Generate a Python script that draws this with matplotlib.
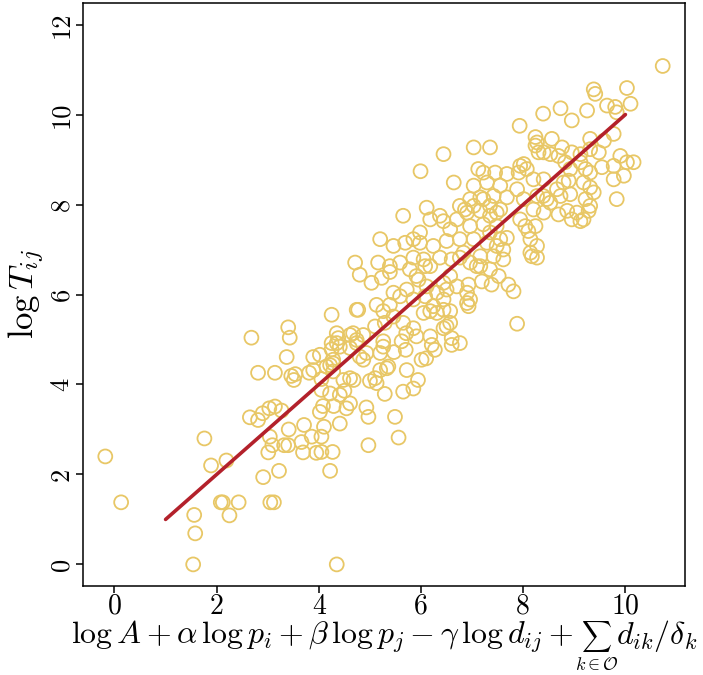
import numpy as np
import matplotlib
matplotlib.use("Agg")
import matplotlib.pyplot as plt

points = [
    (-0.18, 2.40), (0.13, 1.38), (1.76, 2.80), (1.89, 2.20), (2.19, 2.31), (1.56, 1.10), (1.58, 0.69), (1.54, 0.00),
    (2.08, 1.38), (2.12, 1.38), (2.43, 1.38), (2.25, 1.09), (3.05, 1.38), (3.12, 1.38), (2.91, 1.94), (3.22, 2.08),
    (3.01, 2.49), (3.09, 2.65), (3.32, 2.65), (3.40, 2.65), (3.41, 3.00), (3.69, 2.49), (3.71, 3.10), (2.65, 3.27),
    (2.81, 3.21), (2.90, 3.36), (3.03, 3.47), (3.14, 3.51), (3.27, 3.42), (3.51, 4.10), (3.04, 2.84), (3.66, 2.72),
    (3.95, 2.48), (4.05, 2.50), (4.27, 2.50), (3.86, 2.84), (4.05, 2.84), (4.10, 3.06), (4.41, 3.13), (4.22, 2.08),
    (4.35, 0.00), (4.97, 2.65), (5.56, 2.82), (5.49, 3.28), (4.97, 3.28), (4.93, 3.49),
    (2.68, 5.04), (3.40, 5.27), (3.43, 5.04), (3.37, 4.61), (3.89, 4.61), (2.81, 4.26), (3.14, 4.26), (3.46, 4.19),
    (3.54, 4.23), (3.81, 4.26), (3.89, 4.32),
    (4.25, 5.55), (4.77, 5.66), (4.05, 4.12), (4.22, 4.43), (4.25, 4.78), (4.38, 5.03), (4.61, 4.14), (4.68, 4.10),
    (4.50, 3.86), (4.29, 3.52), (4.08, 3.52), (4.02, 3.39), (4.28, 4.29), (4.48, 4.10), (5.00, 4.08), (5.10, 4.14),
    (5.13, 4.03), (4.05, 3.88), (4.22, 3.80), (4.61, 3.58), (4.54, 3.47), (4.41, 3.77), (4.15, 4.40), (4.28, 4.47),
    (4.35, 4.92), (4.61, 5.10), (4.74, 4.99), (4.93, 4.70), (4.87, 4.55), (5.29, 3.79), (5.65, 3.84), (5.85, 3.91),
    (5.94, 4.10), (5.33, 4.36), (5.20, 4.32), (5.72, 4.32),
    (5.13, 5.77), (5.26, 5.63), (5.39, 5.77), (5.65, 5.37), (5.85, 5.25), (5.91, 5.07), (6.18, 5.07), (6.21, 4.88),
    (6.10, 4.58), (6.01, 4.55), (6.44, 5.25), (6.57, 5.37), (6.60, 4.88), (6.76, 4.92), (6.05, 5.59), (6.18, 5.63),
    (6.31, 5.59), (6.44, 5.66), (6.57, 5.63), (6.90, 5.81), (5.47, 4.72), (5.70, 4.77), (5.71, 5.14), (5.26, 4.96),
    (5.20, 4.70), (4.87, 5.10), (4.67, 5.14), (4.74, 4.92), (4.35, 5.14), (4.25, 4.92), (4.61, 4.81), (4.80, 4.62),
    (4.41, 4.84), (4.02, 4.66), (4.28, 4.55), (5.10, 5.29), (5.29, 5.37), (5.46, 5.51), (5.26, 4.84), (5.36, 4.40),
    (5.62, 4.96),
    (4.71, 6.71), (4.80, 6.44), (5.03, 6.26), (5.23, 6.37), (5.39, 6.63), (5.59, 6.71), (5.78, 6.56), (5.95, 6.33),
    (6.08, 6.63), (5.46, 6.04), (5.59, 5.96), (5.72, 6.11), (5.85, 5.89), (6.08, 5.96), (5.16, 6.71), (5.39, 6.50),
    (4.74, 5.66),
    (5.65, 7.75), (6.11, 7.93), (6.18, 7.67), (5.98, 7.38), (5.20, 7.23), (5.46, 7.08), (5.69, 7.15), (5.85, 7.23),
    (6.37, 7.75), (6.57, 7.45), (6.70, 7.67), (6.86, 7.89), (7.22, 8.12), (7.35, 7.97), (7.48, 7.82), (7.03, 7.97),
    (7.35, 7.38), (7.55, 7.23), (7.61, 7.00), (7.16, 6.63), (7.35, 6.56), (7.52, 6.41), (7.71, 6.22), (7.81, 6.07),
    (6.60, 6.78), (6.83, 6.93), (6.96, 6.71), (7.09, 6.63), (6.57, 6.41), (6.70, 6.18), (6.90, 6.04), (6.96, 5.89),
    (6.05, 6.78), (6.18, 6.63), (5.91, 6.41), (6.11, 6.18), (6.31, 6.04), (6.44, 6.26), (6.24, 5.74),
    (7.88, 5.35), (7.38, 6.22), (7.19, 6.29), (6.93, 6.22), (6.93, 5.74), (6.50, 6.11), (6.44, 5.89), (6.50, 5.29),
    (6.60, 5.03), (6.27, 4.77),
    (5.99, 8.74), (6.44, 9.12), (6.64, 8.49), (7.03, 9.27), (7.35, 9.27), (7.12, 8.79), (7.22, 8.71), (7.45, 8.71),
    (7.68, 8.68), (7.94, 8.86), (8.01, 8.90), (7.91, 8.71), (8.07, 8.79), (7.93, 9.75), (8.24, 9.31), (8.40, 9.16),
    (8.53, 9.12), (8.69, 9.08), (8.82, 8.94), (8.92, 8.79), (9.12, 9.12), (9.31, 9.23), (9.48, 9.16), (9.22, 8.79),
    (9.31, 8.71), (9.54, 8.83), (9.77, 8.86), (9.90, 9.08), (10.16, 8.94), (9.18, 8.49), (9.31, 8.38), (9.38, 8.27),
    (9.22, 8.12), (9.28, 7.86), (9.05, 7.82), (8.95, 7.67), (9.12, 7.63), (8.69, 7.78), (8.53, 8.04), (8.39, 8.19),
    (8.66, 8.34), (8.79, 8.49), (8.89, 8.53), (8.04, 7.52), (8.10, 7.41), (8.24, 7.52), (8.14, 7.23), (8.27, 7.08),
    (8.17, 6.85), (8.27, 6.82), (8.14, 6.93),
    (10.73, 11.08), (10.03, 10.59), (10.10, 10.24), (9.38, 10.56), (9.41, 10.46), (9.64, 10.20), (9.80, 10.17),
    (9.83, 10.05), (9.25, 10.09), (8.73, 10.14), (8.95, 9.87), (8.39, 10.02), (9.31, 9.46), (9.58, 9.42), (9.77, 9.57),
    (8.24, 9.50), (8.27, 9.38), (8.56, 9.46), (8.76, 9.27),
    (7.03, 8.42), (7.29, 8.49), (7.55, 8.42), (6.96, 8.12), (7.16, 8.16), (7.42, 8.19), (7.68, 8.16), (6.76, 7.97),
    (6.90, 7.82), (7.16, 7.86), (7.35, 7.75), (7.55, 7.89), (6.44, 7.63), (6.96, 7.52), (7.22, 7.56), (7.48, 7.52),
    (5.98, 7.15), (6.24, 7.08), (6.50, 7.19), (6.76, 7.23), (7.03, 7.23), (7.29, 7.15), (7.48, 7.08), (7.68, 7.26),
    (5.85, 6.82), (6.37, 6.82), (6.76, 6.82), (7.16, 6.85), (7.42, 6.85), (7.61, 6.78),
    (8.30, 9.16), (8.95, 9.16), (9.12, 8.94), (8.20, 8.56), (8.40, 8.56), (9.77, 8.56), (9.97, 8.64), (7.88, 8.34),
    (8.01, 8.12), (8.27, 8.19), (8.46, 8.12), (8.73, 8.19), (8.92, 8.23), (9.31, 7.97), (8.20, 7.89),
    (8.40, 7.82), (8.86, 7.86), (9.18, 7.67), (7.94, 7.67), (9.83, 8.12), (10.03, 8.94),
]

# fitted line (y = x) endpoints
fit_x = [1, 10]
fit_y = [1, 10]

x_ticks = [0, 2, 4, 6, 8, 10]
y_ticks = [0, 2, 4, 6, 8, 10, 12]

pts = np.array(points)
xs, ys = pts[:, 0], pts[:, 1]

plt.rcParams['font.family'] = 'serif'
plt.rcParams['font.serif'] = ['cmr10']
plt.rcParams['mathtext.fontset'] = 'cm'
plt.rcParams['axes.formatter.use_mathtext'] = True

W, H = 703, 675
fig = plt.figure(figsize=(W / 100, H / 100), dpi=100)
ax = fig.add_axes([83 / W, 1 - 586 / H, 602 / W, 583 / H])

ax.scatter(xs, ys, s=100, facecolors='none', edgecolors='#E8C766', linewidths=1.3, zorder=2)
ax.plot(fit_x, fit_y, color='#B3212B', lw=2.6, solid_capstyle='round', zorder=3)

# R style 4% padding
xr = xs.max() - xs.min()
ax.set_xlim(xs.min() - 0.04 * xr, xs.max() + 0.04 * xr)
ax.set_ylim(-0.48, 12.48)

ax.set_xticks(x_ticks)
ax.set_yticks(y_ticks)
ax.set_xticklabels([str(t) for t in x_ticks], fontsize=20)
ax.set_yticklabels([str(t) for t in y_ticks], fontsize=19, rotation=90, va='center')
ax.tick_params(direction='out', length=5, width=1.1)
ax.tick_params(axis='x', pad=0.5)
ax.tick_params(axis='y', pad=2)
for sp in ax.spines.values():
    sp.set_linewidth(1.1)

ax.set_ylabel(r'$\log T_{ij}$', fontsize=25, labelpad=2)

# x label built from pieces so the sum stays small with its limit underneath
base_y = 1 - 644 / H
parts = [
    (r'$\log A + \alpha\,\log p_i + \beta\,\log p_j - \gamma\,\log d_{ij} +$', 23),
    (r'$\sum$', 15),
    (r'$d_{ik}/\delta_k$', 23),
]
gaps = [8, 4, 0]
fig.canvas.draw()
rend = fig.canvas.get_renderer()
texts = [fig.text(0, base_y, s, fontsize=fs, ha='left', va='baseline') for s, fs in parts]
widths = [t.get_window_extent(rend).width for t in texts]
x0 = (83 + 685) / 2 - (sum(widths) + sum(gaps)) / 2
for t, w, g in zip(texts, widths, gaps):
    t.set_x(x0 / W)
    if t is texts[1]:
        t.set_va('center')
        t.set_y(1 - 637 / H)
        sum_mid = x0 + w / 2
    x0 += w + g
sum_bb = texts[1].get_window_extent(rend)
fig.text(sum_mid / W, (sum_bb.y0 - 1) / H, r'$k\in\mathcal{O}$', fontsize=13, ha='center', va='top')

fig.savefig('out.png', dpi=100)
